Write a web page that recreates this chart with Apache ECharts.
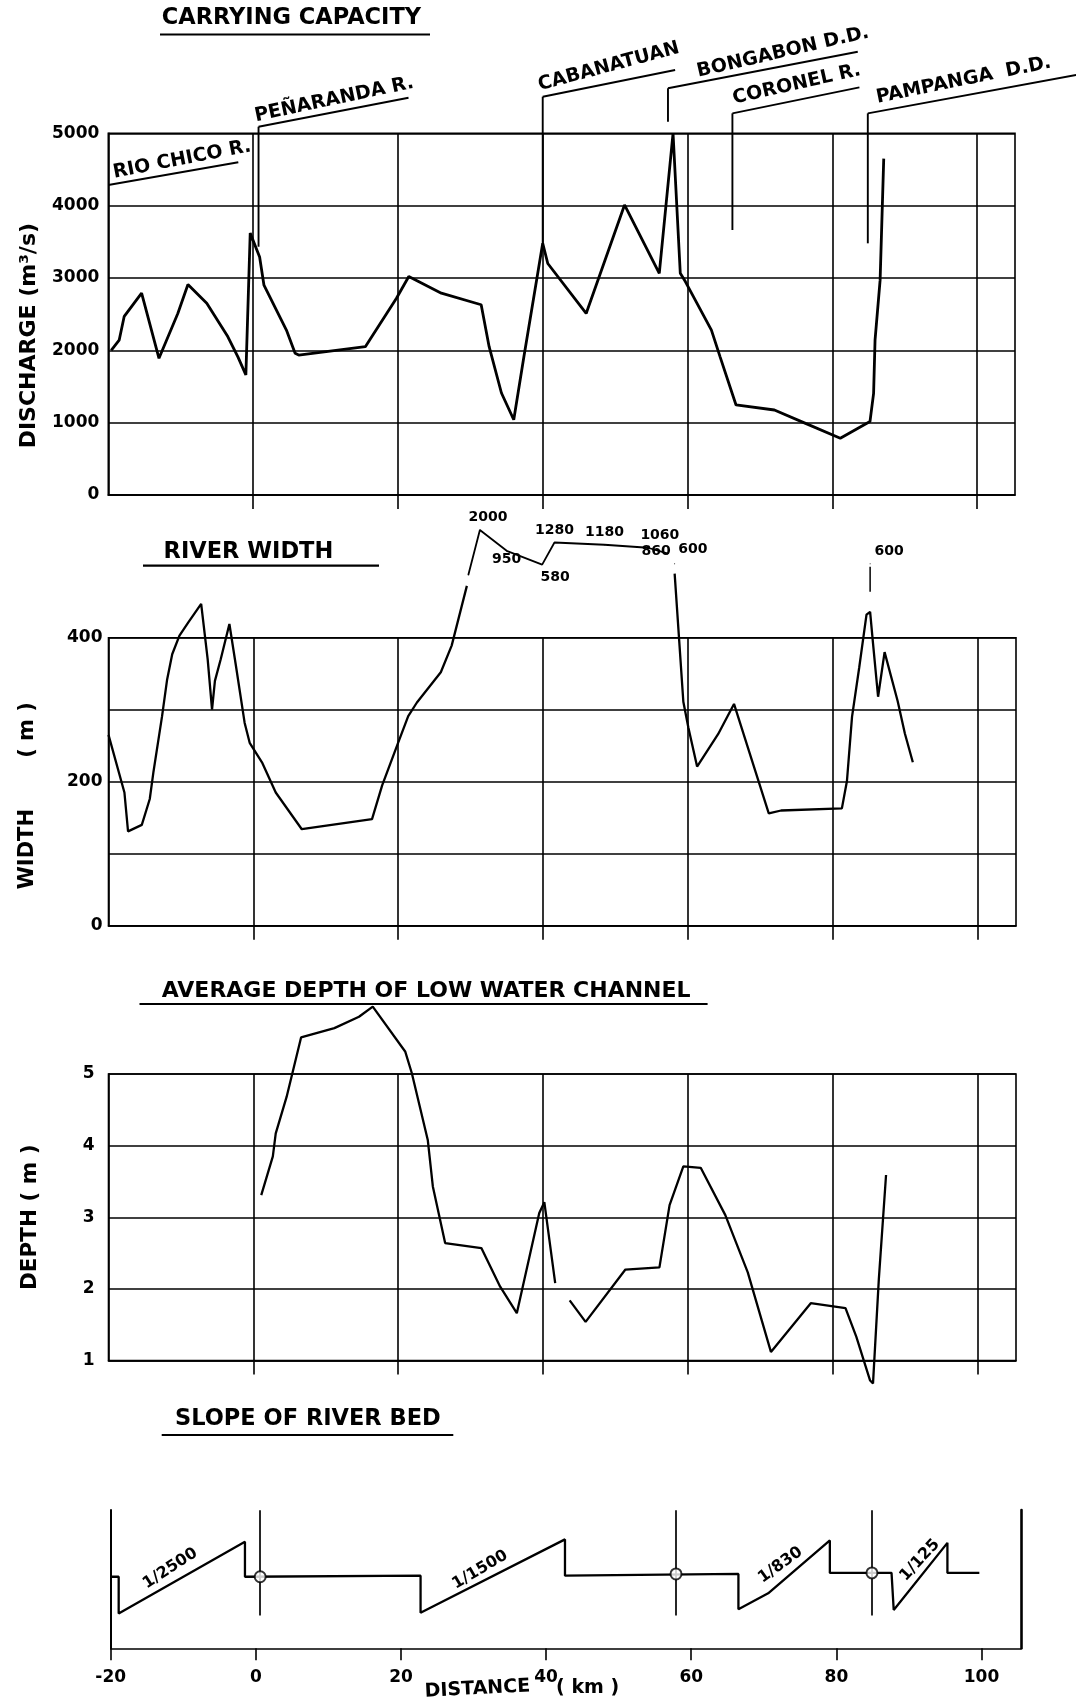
<!DOCTYPE html>
<html><head><meta charset="utf-8">
<script src="https://cdn.jsdelivr.net/npm/echarts@6/dist/echarts.min.js"></script>
<style>html,body{margin:0;padding:0;background:#fff;}#c{width:1076px;height:1700px;}</style>
</head><body><div id="c"></div>
<script>
// ---------------- DATA ----------------
const xTickValues = [-20, 0, 20, 40, 60, 80, 100];

// Carrying capacity (discharge, m3/s) vs distance (km)
const dischargeKm = [-19.6, -18.5, -17.8, -15.4, -13.0, -10.4, -9.0, -6.4, -3.5, -2.1, -1.0, -0.4, 0.9, 1.5, 4.6, 5.8, 6.3, 15.5, 19.8, 21.5, 26.0, 31.5, 32.6, 34.3, 36.0, 37.4, 40.0, 40.7, 46.0, 51.3, 56.1, 58.0, 59.0, 59.7, 63.3, 64.5, 66.7, 72.0, 76.3, 81.1, 85.2, 85.7, 85.9, 86.6, 87.1];
const dischargeQ = [2000, 2140, 2470, 2790, 1890, 2510, 2910, 2650, 2190, 1910, 1660, 3620, 3290, 2900, 2280, 1960, 1935, 2050, 2720, 3020, 2790, 2630, 2050, 1410, 1040, 1910, 3480, 3200, 2510, 4010, 3065, 5000, 3065, 2950, 2280, 1910, 1245, 1175, 990, 785, 1015, 1405, 2140, 2970, 4650];

// Tributaries / structures annotated on the discharge panel
const calloutNames = ['RIO CHICO R.', 'PEÑARANDA R.', 'CABANATUAN', 'BONGABON D.D.', 'CORONEL R.', 'PAMPANGA  D.D.'];
const calloutKm = [0, 0.75, 40, 57.3, 66.2, 84.9];

// River width (m) on the 0-400 scale (null = break in the curve)
const widthKm = [-20.0, -17.8, -17.3, -15.4, -14.3, -13.8, -12.6, -11.9, -11.2, -10.2, -9.0, -7.2, -6.3, -5.7, -5.3, -4.5, -3.3, -2.4, -1.2, -0.5, 1.2, 3.1, 6.7, 16.4, 17.8, 20.0, 21.4, 22.6, 25.9, 27.4, 29.5, 30.0, 58.2, 59.4, 60.1, 61.3, 64.2, 66.4, 71.2, 72.9, 81.3, 82.0, 82.7, 83.7, 84.7, 85.2, 85.6, 86.3, 87.2, 89.0, 90.0, 91.1];
const widthM = [265, 185, 131, 140, 176, 213, 291, 342, 377, 403, 421, 447, 370, 300, 340, 370, 419, 361, 282, 254, 227, 185, 134, 148, 195, 254, 291, 310, 352, 389, 472, null, 489, 311, 275, 221, 266, 308, 156, 160, 163, 201, 290, 359, 432, 436, 392, 318, 380, 312, 267, 227];

// Off-scale widths (m), drawn on a compressed band above the grid
const widthOffScaleKm = [29.7, 31.3, 35.0, 39.9, 41.6, 48.5, 54.5, 57.3];
const widthOffScaleM = [400, 2000, 950, 580, 1280, 1180, 1060, 860];
const widthSpotKm = [58.2, 85.2];
const widthSpotM = [600, 600];

// Average depth of low water channel (m)
const depthKm = [1.1, 2.7, 3.1, 4.6, 6.6, 11.2, 14.6, 16.5, 21.0, 21.9, 24.1, 24.8, 26.5, 31.5, 34.1, 36.4, 39.5, 40.2, 41.7, 42.7, 43.7, 45.9, 51.4, 56.1, 57.5, 59.4, 61.8, 65.2, 68.3, 71.5, 77.0, 81.8, 83.3, 85.2, 85.6, 86.4, 87.4];
const depthM = [3.31, 3.85, 4.17, 4.68, 5.51, 5.64, 5.80, 5.94, 5.31, 5.01, 4.08, 3.43, 2.64, 2.57, 2.03, 1.66, 3.06, 3.21, 2.08, null, 1.84, 1.54, 2.27, 2.30, 3.17, 3.71, 3.69, 3.03, 2.23, 1.12, 1.80, 1.73, 1.33, 0.72, 0.68, 2.13, 3.59];

// Slope of river bed (schematic relative bed level)
const slopeKm = [-20, -18.9, -18.9, -1.5, -1.5, 22.7, 22.7, 42.6, 42.6, 66.5, 66.5, 70.6, 79.1, 79.1, 87.6, 87.9, 95.3, 95.3, 99.7];
const slopeLevel = [0.07, 0.07, -0.99, 1.08, 0.07, 0.1, -0.97, 1.15, 0.1, 0.15, -0.87, -0.41, 1.12, 0.18, 0.18, -0.89, 1.05, 0.18, 0.18];
const slopeLabels = ['1/2500', '1/1500', '1/830', '1/125'];
const slopeLabelKm = [-11.8, 30.9, 72.3, 91.5];
const structureKm = [0.6, 57.9, 84.9];
const structureLevel = [0.07, 0.15, 0.18];

// ---------------- LAYOUT / STYLE ----------------
const FONT = '"DejaVu Sans", sans-serif';
const ink = '#000';
const GRID_LW = 1.6;

function pairs(xs, ys) { return xs.map((x, i) => [x, ys[i] === null ? '-' : ys[i]]); }

function kmAxis(gridIndex, max, showLabel, hidden) {
  if (hidden) return { type: 'value', gridIndex, min: -20, max, show: false };
  return {
    type: 'value', gridIndex, min: -20, max, interval: 20,
    axisLine: { show: true, onZero: false, lineStyle: { color: ink, width: GRID_LW } },
    axisTick: { show: true, length: showLabel ? 12 : 14, customValues: showLabel ? xTickValues : xTickValues.slice(1), lineStyle: { color: ink, width: GRID_LW } },
    axisLabel: { show: showLabel, customValues: xTickValues, margin: 21, color: ink, fontFamily: FONT, fontWeight: 'bold', fontSize: 17,
      formatter: v => (Math.abs(v % 20) < 1e-6 ? String(v) : '') },
    splitLine: { show: !showLabel, lineStyle: { color: ink, width: GRID_LW } }
  };
}
function valAxis(gridIndex, min, max, interval, name, nameGap, nameSize, namePad, labelMargin, fmt) {
  return {
    type: 'value', gridIndex, min, max, interval,
    name, nameLocation: 'middle', nameRotate: 90, nameGap,
    nameTextStyle: { color: ink, fontFamily: FONT, fontWeight: 'bold', fontSize: nameSize, padding: namePad },
    axisLine: { show: true, onZero: false, lineStyle: { color: ink, width: GRID_LW } },
    axisTick: { show: false },
    axisLabel: { margin: labelMargin, color: ink, fontFamily: FONT, fontWeight: 'bold', fontSize: 17, formatter: fmt || (v => String(v)) },
    splitLine: { show: true, lineStyle: { color: ink, width: GRID_LW } }
  };
}

const bandLabelPos = [
  { show: false },
  { position: 'top', offset: [8, 0] },
  { position: 'bottom', distance: 1 },
  { position: 'bottom', offset: [13, 0] },
  { position: 'top' },
  { position: 'top' },
  { position: 'top', offset: [12, 0] },
  { position: 'left', offset: [8, -2] }
];
const spotLabelPos = [
  { position: 'right', offset: [-2, -14] },
  { position: 'top', offset: [19, 0] }
];
const numLabel = { color: ink, fontFamily: FONT, fontWeight: 'bold', fontSize: 14 };

const chart = echarts.init(document.getElementById('c'), null, { renderer: 'canvas' });

const option = {
  animation: false,
  backgroundColor: '#fff',
  grid: [
    { left: 108.3, top: 133.3, width: 906.7, height: 361.7, show: true, borderColor: ink, borderWidth: GRID_LW, outerBoundsMode: 'none' },
    { left: 108.5, top: 637.7, width: 907.5, height: 288, show: true, borderColor: ink, borderWidth: GRID_LW, outerBoundsMode: 'none' },
    { left: 108.5, top: 530, width: 907.5, height: 45, show: false, outerBoundsMode: 'none' },
    { left: 108.5, top: 1074, width: 907.5, height: 286.5, show: true, borderColor: ink, borderWidth: GRID_LW, outerBoundsMode: 'none' },
    { left: 110.7, top: 1510, width: 910.3, height: 138.3, show: false, outerBoundsMode: 'none' }
  ],
  xAxis: [
    kmAxis(0, 105.23, false),
    kmAxis(1, 105.35, false),
    kmAxis(2, 105.35, false, true),
    kmAxis(3, 105.35, false),
    kmAxis(4, 105.44, true)
  ],
  yAxis: [
    valAxis(0, 0, 5000, 1000, 'DISCHARGE (m³/s)', 68, 22, [0, 43, 0, 0], 9),
    valAxis(1, 0, 400, 100, 'WIDTH       ( m )', 70, 21, [0, 28, 0, 0], 6, v => (v % 200 === 0 ? String(v) : '')),
    { type: 'log', gridIndex: 2, min: 400, max: 2000, logBase: 10, show: false },
    valAxis(3, 1, 5, 1, 'DEPTH ( m )', 67, 21.5, [0, 0, 0, 0], 14),
    { type: 'value', gridIndex: 4, min: -2, max: 2, position: 'left',
      axisLine: { show: true, onZero: false, lineStyle: { color: ink, width: 2 } }, axisTick: { show: false }, axisLabel: { show: false }, splitLine: { show: false } },
    { type: 'value', gridIndex: 4, min: -2, max: 2, position: 'right',
      axisLine: { show: true, onZero: false, lineStyle: { color: ink, width: 2.6 } }, axisTick: { show: false }, axisLabel: { show: false }, splitLine: { show: false } }
  ],
  series: [
    { name: 'Discharge', type: 'line', xAxisIndex: 0, yAxisIndex: 0, clip: false, showSymbol: false,
      lineStyle: { color: ink, width: 2.8 }, itemStyle: { color: ink }, data: pairs(dischargeKm, dischargeQ) },
    { name: 'Width', type: 'line', xAxisIndex: 1, yAxisIndex: 1, clip: false, showSymbol: false,
      lineStyle: { color: ink, width: 2.3 }, itemStyle: { color: ink }, data: pairs(widthKm, widthM) },
    { name: 'Width off-scale', type: 'line', xAxisIndex: 2, yAxisIndex: 2, clip: false, showSymbol: true, symbol: 'circle', symbolSize: 1,
      lineStyle: { color: ink, width: 1.8 }, itemStyle: { color: ink },
      label: Object.assign({ show: true, formatter: p => String(p.value[1]) }, numLabel),
      data: widthOffScaleKm.map((k, i) => ({ value: [k, widthOffScaleM[i]], label: bandLabelPos[i] })) },
    { name: 'Width off-scale marks', type: 'line', xAxisIndex: 2, yAxisIndex: 2, clip: false, showSymbol: true, symbol: 'circle', symbolSize: 1,
      connectNulls: false, lineStyle: { width: 0, opacity: 0 }, itemStyle: { color: ink },
      label: Object.assign({ show: true, formatter: p => String(p.value[1]) }, numLabel),
      data: widthSpotKm.map((k, i) => ({ value: [k, widthSpotM[i]], label: spotLabelPos[i] })) },
    { name: 'Depth', type: 'line', xAxisIndex: 3, yAxisIndex: 3, clip: false, showSymbol: false,
      lineStyle: { color: ink, width: 2.3 }, itemStyle: { color: ink }, data: pairs(depthKm, depthM) },
    { name: 'Slope', type: 'line', xAxisIndex: 4, yAxisIndex: 4, clip: false, showSymbol: false,
      lineStyle: { color: ink, width: 2.3 }, itemStyle: { color: ink }, data: pairs(slopeKm, slopeLevel) },
    { name: 'Structures', type: 'scatter', xAxisIndex: 4, yAxisIndex: 4, z: 5, symbol: 'circle', symbolSize: 11,
      itemStyle: { color: '#fff', borderColor: ink, borderWidth: 2 },
      data: structureKm.map((k, i) => [k, structureLevel[i]]),
      markLine: { silent: true, symbol: ['none', 'none'], label: { show: false }, lineStyle: { color: ink, width: 1.7, type: 'solid' },
        data: structureKm.map(k => [{ coord: [k, 1.99] }, { coord: [k, -1.05] }]) } }
  ]
};
chart.setOption(option);

// ---------- annotations (positioned through the axes) ----------
const titles = [
  { text: 'CARRYING CAPACITY', size: 22.5, x: 161.7, cy: 18.5, ulY: 34.5, ul: [160, 430] },
  { text: 'RIVER WIDTH', size: 22.5, x: 163.6, cy: 551.7, ulY: 565.7, ul: [143, 379] },
  { text: 'AVERAGE DEPTH OF LOW WATER CHANNEL', size: 22, x: 161.8, cy: 991.7, ulY: 1004, ul: [139.5, 707.6] },
  { text: 'SLOPE OF RIVER BED', size: 22.5, x: 175, cy: 1419, ulY: 1435, ul: [161.7, 453.3] }
];
const calloutLayout = [
  { vBottom: null, vTop: 4599, ox: -14.8, lx: -130, ly: 22.7, tx: -123.3, ty: 20, rot: 11 },
  { vBottom: 3432, vTop: 5091, ox: 0, lx: 150, ly: -29, tx: -1.6, ty: -1, rot: 12 },
  { vBottom: 3480, vTop: 5506, ox: 0, lx: 132.4, ly: -26.7, tx: -1.7, ty: -2, rot: 15 },
  { vBottom: 5160, vTop: 5622, ox: 0, lx: 189.8, ly: -36.6, tx: 31.4, ty: -7, rot: 13 },
  { vBottom: 3663, vTop: 5276, ox: 0, lx: 127, ly: -26, tx: 2.7, ty: -5.3, rot: 12.7 },
  { vBottom: 3479, vTop: 5276, ox: 0, lx: 208.3, ly: -38.3, tx: 10.5, ty: -6, rot: 11.5 }
];
const slopeLabelLayout = [
  { level: 0.31, rot: 33 }, { level: 0.27, rot: 30.5 }, { level: 0.41, rot: 35.7 }, { level: 0.55, rot: 47 }
];

function seg(x1, y1, x2, y2, w) {
  return { type: 'line', silent: true, shape: { x1, y1, x2, y2 }, style: { stroke: ink, lineWidth: w || 1.8 } };
}
function txt(x, y, text, size, align, valign, rotDeg) {
  return { type: 'text', silent: true, x, y, rotation: (rotDeg || 0) * Math.PI / 180,
    style: { text, font: 'bold ' + size + 'px ' + FONT, fill: ink, align, verticalAlign: valign, textAlign: align, textVerticalAlign: valign } };
}

const g = [];
titles.forEach(t => {
  g.push(txt(t.x, t.cy, t.text, t.size, 'left', 'middle'));
  g.push(seg(t.ul[0], t.ulY, t.ul[1], t.ulY, 2.2));
});
calloutNames.forEach((name, i) => {
  const L = calloutLayout[i];
  const top = chart.convertToPixel({ gridIndex: 0 }, [calloutKm[i], L.vTop]);
  if (L.vBottom !== null) {
    const bot = chart.convertToPixel({ gridIndex: 0 }, [calloutKm[i], L.vBottom]);
    g.push(seg(top[0], bot[1], top[0], top[1], 1.9));
  }
  const ax = top[0] + L.ox, ay = top[1];
  g.push(seg(ax, ay, ax + L.lx, ay + L.ly, 1.9));
  g.push(txt(ax + L.tx, ay + L.ty, name, 19, 'left', 'bottom', L.rot));
});
// tick below the right-hand "600" off-scale width mark
{
  const p = chart.convertToPixel({ gridIndex: 2 }, [widthSpotKm[1], widthSpotM[1]]);
  g.push(seg(p[0], p[1] + 3, p[0], p[1] + 28, 1.5));
}
slopeLabels.forEach((s, i) => {
  const p = chart.convertToPixel({ gridIndex: 4 }, [slopeLabelKm[i], slopeLabelLayout[i].level]);
  g.push(txt(p[0], p[1], s, 16, 'center', 'middle', slopeLabelLayout[i].rot));
});
{
  const p = chart.convertToPixel({ gridIndex: 4 }, [40, -2]);
  g.push(txt(p[0] - 16, p[1] + 38, 'DISTANCE', 19, 'right', 'middle', 3));
  g.push(txt(p[0] + 10, p[1] + 40, '( km )', 19, 'left', 'middle'));
}
chart.setOption({ graphic: { elements: g } });
</script>
</body></html>
